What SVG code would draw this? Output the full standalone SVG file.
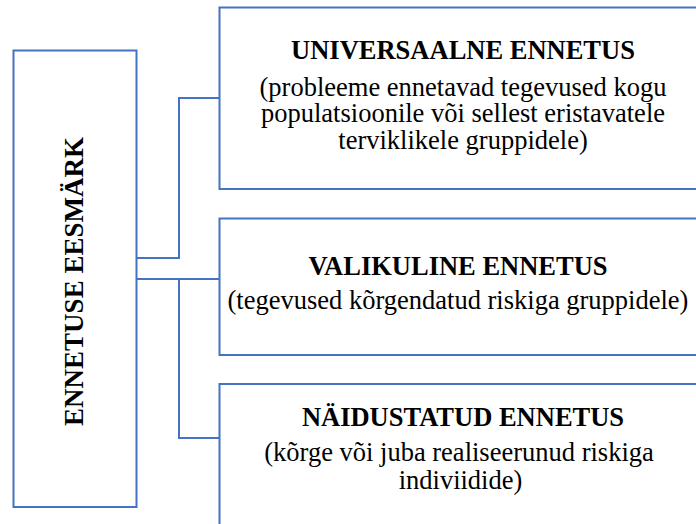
<svg xmlns="http://www.w3.org/2000/svg" width="696" height="524" viewBox="0 0 696 524">
<style>
.box{fill:#fff;stroke:#4472C4;stroke-width:2}
.conn{fill:none;stroke:#4472C4;stroke-width:2}
.t{font-family:"Liberation Serif","Times New Roman",serif;font-size:26.5px;fill:#000;text-anchor:middle}
.b{font-weight:bold}
</style>
<rect width="696" height="524" fill="#fff"/>
<g id="connectors">
<path class="conn" d="M137,258 H179 V98 H219.5"/>
<path class="conn" d="M137,279 H219.5"/>
<path class="conn" d="M137,279 H179 V438 H219.5"/>
</g>
<g id="goal">
<rect class="box" x="13.5" y="50.5" width="123" height="456.5"/>
<text class="t b" transform="translate(83,281.5) rotate(-90)" style="font-size:27px">ENNETUSE EESMÄRK</text>
</g>
<g id="universal">
<rect class="box" x="219.5" y="7.5" width="500" height="181.5"/>
<text class="t b" x="463" y="59.3">UNIVERSAALNE ENNETUS</text>
<text class="t" x="463" y="96">(probleeme ennetavad tegevused kogu</text>
<text class="t" x="463" y="122.3">populatsioonile või sellest eristavatele</text>
<text class="t" x="463" y="148.6">terviklikele gruppidele)</text>
</g>
<g id="selective">
<rect class="box" x="219.5" y="218.5" width="500" height="136.5"/>
<text class="t b" x="458" y="275">VALIKULINE ENNETUS</text>
<text class="t" x="458" y="309">(tegevused kõrgendatud riskiga gruppidele)</text>
</g>
<g id="indicated">
<rect class="box" x="219.5" y="384" width="500" height="200"/>
<text class="t b" x="463" y="426">NÄIDUSTATUD ENNETUS</text>
<text class="t" x="459" y="461">(kõrge või juba realiseerunud riskiga</text>
<text class="t" x="460.5" y="489">indiviidide)</text>
</g>
</svg>
